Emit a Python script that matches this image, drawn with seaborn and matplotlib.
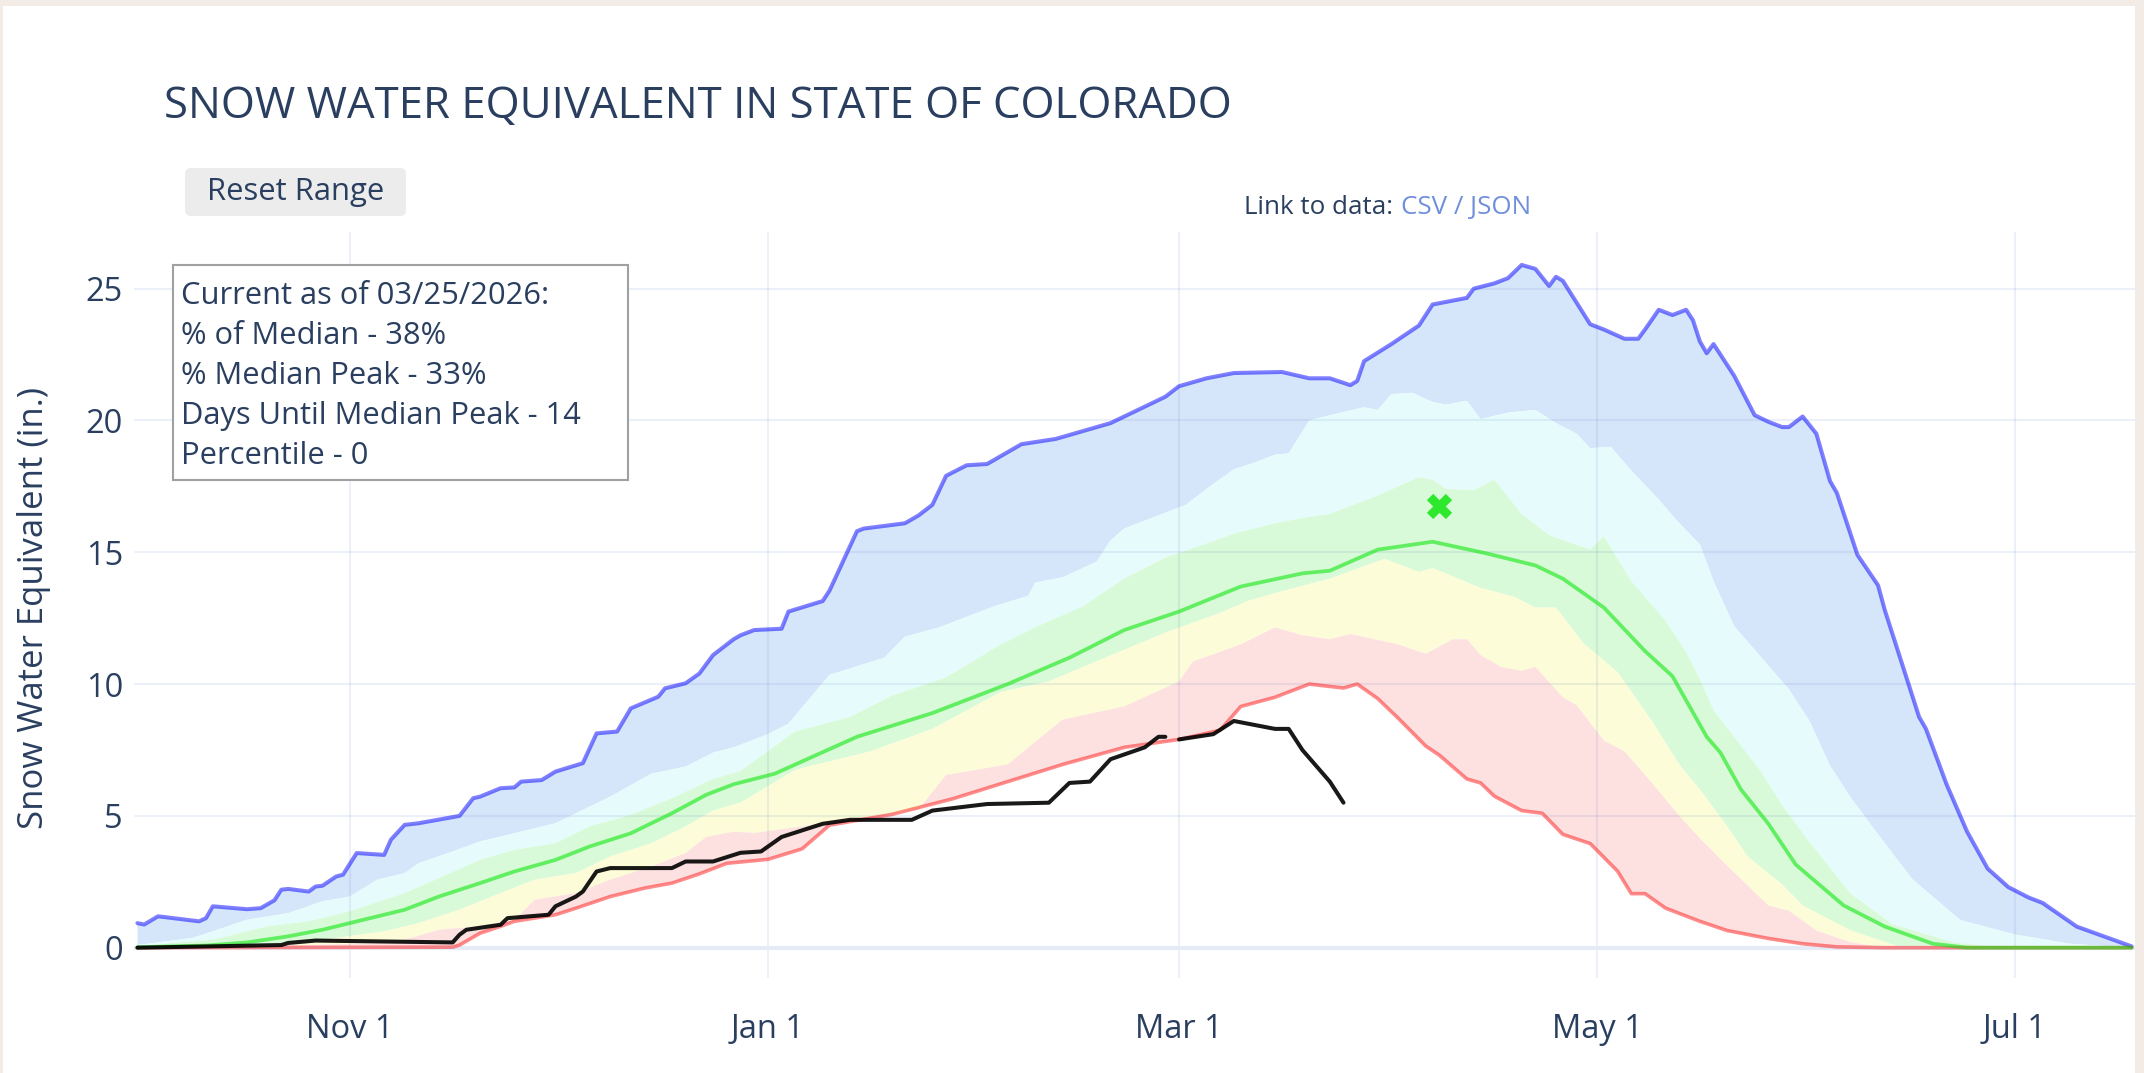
import numpy as np
import pandas as pd
import matplotlib
matplotlib.use('Agg')
import matplotlib.pyplot as plt
import matplotlib.dates as mdates
from matplotlib.patches import Rectangle, FancyBboxPatch
from matplotlib.transforms import IdentityTransform
import seaborn as sns

# days since Oct 1 of the water year (axis uses a leap year, so Feb 29 = day 151)
max_days = [0, 1, 3, 4, 9, 10, 11, 16, 18, 20, 21, 22, 25, 26, 27, 29, 30, 32, 36, 37, 39, 41,
            47, 49, 50, 53, 55, 56, 59, 61, 65, 67, 70, 72, 76, 77, 80, 82, 84, 87, 88, 90, 94,
            95, 100, 101, 105, 106, 112, 114, 116, 118, 121, 124, 129, 134, 142, 146, 150, 152,
            156, 160, 167, 171, 174, 177, 178, 179, 183, 187, 189, 194, 195, 198, 200, 202, 204,
            206, 207, 208, 212, 214, 217, 219, 220, 222, 224, 226, 227, 228, 229, 230, 233, 236,
            238, 240, 241, 243, 245, 247, 248, 251, 254, 255, 260, 261, 264, 267, 270, 273, 276,
            278, 283, 291]
max_swe = [0.93, 0.88, 1.19, 1.16, 1.0, 1.12, 1.57, 1.46, 1.5, 1.8, 2.2, 2.23, 2.13, 2.32, 2.35,
           2.7, 2.77, 3.59, 3.52, 4.1, 4.66, 4.72, 5.0, 5.67, 5.73, 6.05, 6.08, 6.3, 6.36, 6.68,
           7.0, 8.13, 8.2, 9.08, 9.52, 9.84, 10.03, 10.4, 11.1, 11.7, 11.85, 12.05, 12.1, 12.75,
           13.15, 13.55, 15.8, 15.9, 16.1, 16.4, 16.8, 17.9, 18.3, 18.35, 19.1, 19.3, 19.9, 20.4,
           20.9, 21.3, 21.6, 21.8, 21.84, 21.6, 21.6, 21.34, 21.5, 22.25, 22.9, 23.6, 24.4, 24.65,
           25.0, 25.2, 25.4, 25.9, 25.75, 25.1, 25.45, 25.3, 23.65, 23.45, 23.1, 23.1, 23.45, 24.2,
           24.0, 24.2, 23.8, 23.0, 22.55, 22.9, 21.7, 20.2, 19.95, 19.75, 19.75, 20.15, 19.5, 17.7,
           17.25, 14.9, 13.75, 12.8, 8.75, 8.3, 6.2, 4.4, 3.0, 2.3, 1.9, 1.7, 0.8, 0.05]

p90_days = [0, 8, 11, 16, 22, 27, 31, 35, 39, 41, 46, 50, 55, 61, 64, 69, 75, 80, 84, 87, 92, 95,
            101, 109, 112, 117, 125, 130, 131, 135, 140, 142, 144, 149, 153, 156, 160, 163, 166,
            168, 171, 174, 179, 181, 183, 186, 189, 191, 194, 196, 200, 204, 207, 210, 212, 215,
            218, 222, 225, 228, 230, 233, 237, 241, 244, 247, 250, 254, 259, 266, 274, 282, 291]
p90_swe = [0.1, 0.37, 0.62, 1.06, 1.31, 1.76, 1.94, 2.58, 2.83, 3.2, 3.65, 4.03, 4.34, 4.72, 5.1,
           5.73, 6.6, 6.87, 7.4, 7.6, 8.1, 8.5, 10.35, 11.0, 11.8, 12.15, 12.95, 13.35, 13.85,
           14.05, 14.65, 15.45, 15.9, 16.4, 16.8, 17.4, 18.15, 18.4, 18.7, 18.75, 20.0, 20.2,
           20.5, 20.4, 21.0, 21.05, 20.7, 20.6, 20.75, 20.05, 20.3, 20.4, 19.9, 19.5, 18.95, 19.0,
           18.1, 17.0, 16.1, 15.3, 13.9, 12.2, 11.0, 9.8, 8.6, 6.9, 5.7, 4.3, 2.6, 1.05, 0.5,
           0.15, 0.0]

p70_days = [0, 5, 11, 19, 25, 31, 39, 44, 50, 55, 61, 66, 72, 78, 84, 88, 96, 104, 110, 118, 126,
            131, 138, 144, 150, 154, 160, 166, 170, 174, 181, 187, 189, 191, 195, 198, 202, 206,
            212, 214, 218, 223, 226, 228, 230, 233, 237, 240, 244, 250, 256, 265, 272, 291]
p70_swe = [0.02, 0.18, 0.3, 0.81, 1.0, 1.38, 2.07, 2.64, 3.33, 3.71, 3.96, 4.6, 5.04, 5.67, 6.4,
           6.7, 8.2, 8.75, 9.55, 10.25, 11.5, 12.15, 12.95, 14.0, 14.8, 15.15, 15.7, 16.1, 16.3,
           16.45, 17.15, 17.85, 17.75, 17.4, 17.35, 17.75, 16.45, 15.65, 15.1, 15.6, 13.9, 12.4,
           11.2, 10.2, 9.0, 8.0, 6.65, 5.4, 4.0, 2.05, 0.9, 0.2, 0.0, 0.0]

median_days = [0, 10, 16, 22, 27, 33, 39, 44, 50, 55, 61, 66, 72, 78, 83, 87, 93, 105, 116, 127,
               136, 144, 152, 161, 170, 174, 181, 189, 197, 204, 208, 214, 220, 224, 229, 231,
               234, 238, 242, 249, 255, 262, 267, 291]
median_swe = [0.02, 0.08, 0.2, 0.43, 0.68, 1.06, 1.44, 1.94, 2.45, 2.89, 3.33, 3.84, 4.34, 5.1,
              5.8, 6.2, 6.6, 8.0, 8.9, 10.0, 11.0, 12.05, 12.75, 13.7, 14.2, 14.3, 15.1, 15.4,
              14.95, 14.5, 14.0, 12.9, 11.25, 10.3, 8.0, 7.4, 6.0, 4.7, 3.15, 1.6, 0.8, 0.15, 0.0,
              0.0]

p30_days = [0, 16, 22, 27, 36, 41, 47, 53, 58, 64, 69, 75, 80, 84, 88, 96, 107, 116, 126, 133,
            138, 144, 150, 158, 162, 166, 174, 182, 187, 189, 196, 201, 204, 207, 211, 216, 221,
            225, 228, 232, 235, 240, 243, 250, 257, 262, 291]
p30_swe = [0.0, 0.08, 0.18, 0.3, 0.62, 0.93, 1.44, 2.07, 2.58, 2.83, 3.46, 3.96, 4.6, 5.2, 5.5,
           6.75, 7.45, 8.3, 9.7, 10.1, 10.65, 11.3, 11.95, 12.7, 13.15, 13.45, 14.0, 14.75, 14.25,
           14.4, 13.65, 13.3, 12.9, 12.9, 11.55, 10.45, 8.6, 6.95, 6.0, 4.6, 3.45, 2.4, 1.6, 0.65,
           0.05, 0.0, 0.0]

p10_days = [0, 27, 36, 39, 44, 50, 55, 58, 64, 69, 75, 80, 83, 87, 90, 104, 114, 118, 127, 135,
            144, 152, 154, 161, 166, 170, 174, 177, 184, 188, 192, 194, 196, 199, 202, 204, 208,
            210, 214, 217, 221, 225, 228, 232, 238, 241, 245, 250, 255, 291]
p10_swe = [0.0, 0.11, 0.18, 0.3, 0.68, 0.81, 1.06, 1.82, 2.07, 2.58, 3.08, 3.59, 4.2, 4.4, 4.35,
           4.85, 5.25, 6.55, 6.95, 8.65, 9.15, 10.1, 10.85, 11.5, 12.15, 11.85, 11.7, 11.9, 11.5,
           11.15, 11.7, 11.7, 11.1, 10.65, 10.5, 10.65, 9.5, 9.2, 7.85, 7.45, 6.25, 5.0, 4.15,
           3.1, 1.6, 1.4, 0.65, 0.2, 0.0, 0.0]

min_days = [0, 46, 47, 50, 53, 55, 61, 64, 69, 74, 78, 82, 86, 92, 97, 101, 110, 119, 127, 135,
            144, 152, 158, 161, 166, 171, 176, 178, 181, 184, 188, 190, 194, 196, 198, 202, 205,
            208, 212, 216, 218, 220, 223, 228, 232, 238, 243, 248, 255, 291]
min_swe = [0.0, 0.02, 0.1, 0.55, 0.81, 1.0, 1.25, 1.5, 1.94, 2.26, 2.45, 2.8, 3.2, 3.35, 3.75,
           4.65, 5.05, 5.65, 6.3, 6.95, 7.6, 7.9, 8.25, 9.15, 9.5, 10.0, 9.85, 10.0, 9.45, 8.7,
           7.65, 7.3, 6.4, 6.25, 5.75, 5.2, 5.1, 4.3, 3.95, 2.9, 2.05, 2.05, 1.5, 1.0, 0.65, 0.35,
           0.15, 0.03, 0.0, 0.0]

# water year 2026 so far (no Feb 29 -> gap)
cur_days = [0, 21, 22, 26, 46, 47, 48, 53, 54, 60, 61, 64, 65, 67, 69, 78, 80, 84, 88, 91, 94,
            97, 100, 104, 113, 116, 124, 133, 136, 139, 142, 147, 149, 150, 151, 152, 157, 160,
            162, 166, 168, 170, 174, 176]
cur_swe = [0.0, 0.1, 0.18, 0.27, 0.2, 0.49, 0.68, 0.87, 1.12, 1.25, 1.57, 1.94, 2.13, 2.89, 3.02,
           3.02, 3.27, 3.27, 3.6, 3.65, 4.2, 4.45, 4.7, 4.85, 4.85, 5.2, 5.45, 5.5, 6.25, 6.3,
           7.15, 7.6, 8.0, 8.0, np.nan, 7.9, 8.1, 8.6, 8.5, 8.3, 8.3, 7.5, 6.3, 5.5]

peak_day = [190]
peak_swe = [16.75]

info_lines = ["Current as of 03/25/2026:", "% of Median - 38%", "% Median Peak - 33%",
              "Days Until Median Peak - 14", "Percentile - 0"]

W, H = 2144, 1073
base = pd.Timestamp('2019-10-01')


def to_dates(days):
    return base + pd.to_timedelta(np.asarray(days, dtype=float), unit='D')


sns.set_theme(style='white')
plt.rcParams['font.family'] = ['Open Sans', 'DejaVu Sans']
txt_col = '#2a3f5f'

fig = plt.figure(figsize=(W / 100, H / 100), dpi=100, facecolor='#f3ece6')
fig.add_artist(Rectangle((3 / W, 0), (2135 - 3) / W, 1 - 6 / H, transform=fig.transFigure,
                         facecolor='white', edgecolor='none', zorder=-1))
ax = fig.add_axes([134 / W, 1 - 978 / H, (2135 - 134) / W, (978 - 232) / H])
ax.set_facecolor('white')


# bands between percentile curves
def band(ud, uv, ld, lv, color):
    xs = np.concatenate([mdates.date2num(to_dates(ud)), mdates.date2num(to_dates(ld))[::-1]])
    ys = np.concatenate([uv, lv[::-1]])
    ax.fill(xs, ys, color=color, lw=0, zorder=1)


band(max_days, max_swe, p90_days, p90_swe, '#d6e6fa')
band(p90_days, p90_swe, p70_days, p70_swe, '#e6fcfc')
band(p70_days, p70_swe, p30_days, p30_swe, '#d8fad8')
band(p30_days, p30_swe, p10_days, p10_swe, '#fcfcd8')
band(p10_days, p10_swe, min_days, min_swe, '#fde0e0')

ax.axhline(0, color='#e6ecf6', lw=3, zorder=2.6)

sns.lineplot(x=to_dates(max_days), y=max_swe, ax=ax, color=(0, 0, 1), alpha=0.5, lw=2.9, zorder=3)
sns.lineplot(x=to_dates(min_days), y=min_swe, ax=ax, color=(1, 0, 0), alpha=0.45, lw=2.6, zorder=3)
sns.lineplot(x=to_dates(median_days), y=median_swe, ax=ax, color=(0, 0.9, 0), alpha=0.55, lw=2.7,
             zorder=3)

cur = pd.DataFrame({'date': to_dates(cur_days), 'swe': cur_swe})
cur['seg'] = cur['swe'].isna().cumsum()
sns.lineplot(data=cur.dropna(), x='date', y='swe', units='seg', estimator=None, ax=ax,
             color='black', alpha=0.9, lw=2.9, zorder=4)

sns.scatterplot(x=to_dates(peak_day), y=peak_swe, ax=ax, marker='X', s=330, color='#2ee82e',
                linewidth=0, zorder=5)

# axes styling
ax.set_xlim(to_dates([-0.5])[0], to_dates([291.5])[0])
ax.set_ylim(-1.15, 27.15)
ax.set_yticks([0, 5, 10, 15, 20, 25])
ax.xaxis.set_major_locator(mdates.MonthLocator(bymonth=[11, 1, 3, 5, 7]))
ax.xaxis.set_major_formatter(plt.FuncFormatter(
    lambda v, p: mdates.num2date(v).strftime('%b ') + str(mdates.num2date(v).day)))
ax.set_axisbelow(False)
ax.grid(True, color=(0.2, 0.35, 0.7), alpha=0.09, lw=1.5)
ax.tick_params(axis='x', length=0, pad=25, labelsize=23.5, labelcolor=txt_col)
ax.tick_params(axis='y', length=0, pad=8, labelsize=23.5, labelcolor=txt_col)
ax.set_xlabel('')
ax.set_ylabel('')
for s in ax.spines.values():
    s.set_visible(False)

# texts and widgets outside the axes
fig.text(164 / W, 1 - 118 / H, 'SNOW WATER EQUIVALENT IN STATE OF COLORADO', fontsize=31.5,
         color=txt_col, ha='left', va='baseline')
fig.text(34 / W, 1 - 608 / H, 'Snow Water Equivalent (in.)', rotation=90, fontsize=25,
         color=txt_col, ha='center', va='center')

fig.add_artist(FancyBboxPatch((185, H - 216), 221, 48, boxstyle='round,pad=0,rounding_size=6',
                              transform=IdentityTransform(), facecolor='#ececec',
                              edgecolor='none', zorder=2))
fig.text(295.5 / W, 1 - 192 / H, 'Reset Range', fontsize=22.3, color=txt_col, ha='center',
         va='center', zorder=3)

fig.text(1393 / W, 1 - 214 / H, 'Link to data:', fontsize=18.7, color=txt_col, ha='right',
         va='baseline')
fig.text(1401 / W, 1 - 214 / H, 'CSV / JSON', fontsize=18.7, color='#6f8fdc', ha='left',
         va='baseline')

fig.add_artist(Rectangle((173, H - 480), 455, 215, transform=IdentityTransform(),
                         facecolor='white', edgecolor='#a0a0a0', lw=1.5, zorder=2))
for i, line in enumerate(info_lines):
    fig.text(181 / W, 1 - (304 + 40 * i) / H, line, fontsize=22.2, color=txt_col, ha='left',
             va='baseline', zorder=3)

fig.savefig('out.png', dpi=100, facecolor=fig.get_facecolor())
